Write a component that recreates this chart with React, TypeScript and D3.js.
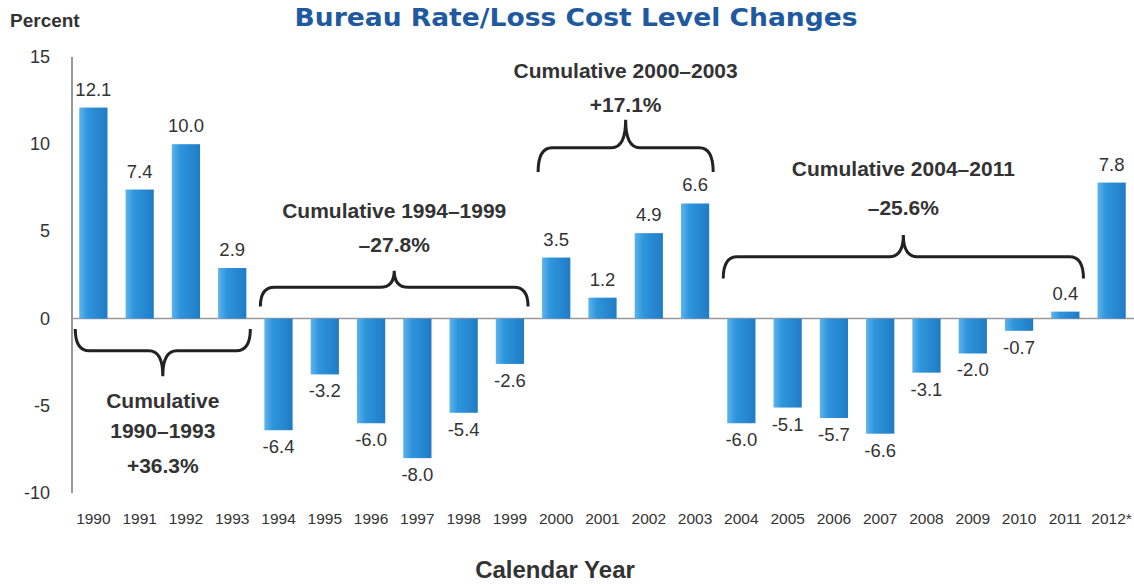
import React from "react";
import * as d3 from "d3";

const years = ["1990","1991","1992","1993","1994","1995","1996","1997","1998","1999","2000","2001","2002","2003","2004","2005","2006","2007","2008","2009","2010","2011","2012*"];
const values = [12.1,7.4,10.0,2.9,-6.4,-3.2,-6.0,-8.0,-5.4,-2.6,3.5,1.2,4.9,6.6,-6.0,-5.1,-5.7,-6.6,-3.1,-2.0,-0.7,0.4,7.8];
const yTicks = [-10,-5,0,5,10,15];
const groupStart = ["1990","1994","2000","2004"];
const groupEnd = ["1993","1999","2003","2011"];
const groupTitle = ["Cumulative 1990–1993","Cumulative 1994–1999","Cumulative 2000–2003","Cumulative 2004–2011"];
const groupValue = ["+36.3%","–27.8%","+17.1%","–25.6%"];

const W = 1134, H = 584;

export default function App() {
  const x = d3.scaleBand<string>().domain(years).range([70, 1135]).paddingInner(0.39).paddingOuter(0.2);
  const y = d3.scaleLinear().domain([-10, 15]).range([493, 57]);
  const bw = x.bandwidth();
  const font = "'Liberation Sans', Arial, sans-serif";

  const brace = (x1: number, x2: number, yTip: number, yLine: number, yPoint: number) => {
    const xm = (x1 + x2) / 2;
    const r = 14;
    return `M${x1},${yTip} Q${x1},${yLine} ${x1 + r},${yLine} L${xm - r},${yLine} Q${xm},${yLine} ${xm},${yPoint} Q${xm},${yLine} ${xm + r},${yLine} L${x2 - r},${yLine} Q${x2},${yLine} ${x2},${yTip}`;
  };

  const braceCfg = [
    { tip: -0.6, line: -1.85, point: -3.3, t1: 0, t2: 0 },
    { tip: 0.7, line: 1.8, point: 2.75, t1: -53, t2: -19 },
    { tip: 8.4, line: 9.8, point: 11.4, t1: -42, t2: -8 },
    { tip: 2.3, line: 3.55, point: 4.8, t1: -59, t2: -20 },
  ];

  return (
    <svg width={W} height={H} style={{ position: "absolute", left: 0, top: 0, background: "#fff" }}>
      <defs>
        <linearGradient id="barg" x1="0" x2="1" y1="0" y2="0">
          <stop offset="0" stopColor="#5db4ec" />
          <stop offset="0.3" stopColor="#2e95dc" />
          <stop offset="1" stopColor="#1f7cc6" />
        </linearGradient>
      </defs>
      <text x={10} y={27} fontFamily={font} fontWeight="bold" fontSize={19} fill="#333">Percent</text>
      <text x={576} y={26} textAnchor="middle" fontFamily="'DejaVu Sans', Verdana, sans-serif" fontWeight="bold" fontSize={25} textLength={563} lengthAdjust="spacingAndGlyphs" fill="#1f5aa0">Bureau Rate/Loss Cost Level Changes</text>

      {yTicks.map(t => (
        <text key={t} x={50} y={y(t) + 6} textAnchor="end" fontFamily={font} fontSize={18} fill="#333">{t}</text>
      ))}
      <line x1={72} x2={72} y1={y(15)} y2={y(-10)} stroke="#777" strokeWidth={1.5} />
      <line x1={72} x2={1134} y1={y(0)} y2={y(0)} stroke="#999" strokeWidth={1.5} />

      {years.map((yr, i) => {
        const v = values[i];
        const x0 = x(yr)!;
        return (
          <g key={yr}>
            <rect x={x0} y={y(Math.max(0, v))} width={bw} height={Math.abs(y(v) - y(0))} fill="url(#barg)" />
            <text x={x0 + bw / 2} y={v >= 0 ? y(v) - 12 : y(v) + 23} textAnchor="middle" fontFamily={font} fontSize={18.5} fill="#333">{v.toFixed(1)}</text>
            <text x={x0 + bw / 2} y={524} textAnchor="middle" fontFamily={font} fontSize={15.5} fill="#333">{yr}</text>
          </g>
        );
      })}

      {groupStart.map((s, i) => {
        const x1 = x(s)! - 4;
        const x2 = x(groupEnd[i])! + bw + 4;
        const c = braceCfg[i];
        const xm = (x1 + x2) / 2;
        return (
          <g key={s}>
            <path d={brace(x1, x2, y(c.tip), y(c.line), y(c.point))} fill="none" stroke="#222" strokeWidth={3} />
            {i === 0 ? (
              <text textAnchor="middle" fontFamily={font} fontWeight="bold" fontSize={21} fill="#333">
                <tspan x={xm} y={408}>Cumulative</tspan>
                <tspan x={xm} y={438}>1990–1993</tspan>
                <tspan x={xm} y={473}>{groupValue[i]}</tspan>
              </text>
            ) : (
              <text textAnchor="middle" fontFamily={font} fontWeight="bold" fontSize={21} fill="#333">
                <tspan x={xm} y={y(c.point) + c.t1}>{groupTitle[i]}</tspan>
                <tspan x={xm} y={y(c.point) + c.t2}>{groupValue[i]}</tspan>
              </text>
            )}
          </g>
        );
      })}

      <text x={555} y={578} textAnchor="middle" fontFamily={font} fontWeight="bold" fontSize={24} fill="#333">Calendar Year</text>
    </svg>
  );
}
